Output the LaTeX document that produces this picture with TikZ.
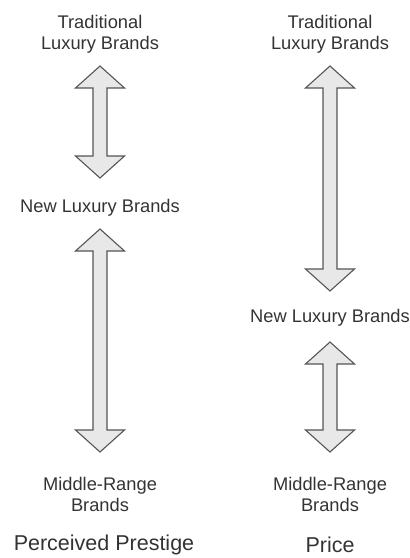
\documentclass[tikz,border=0pt]{standalone}
\usepackage{fontspec}
\setmainfont{Liberation Sans}
\usetikzlibrary{calc}
\definecolor{inkgray}{HTML}{333333}
\definecolor{arrowfill}{HTML}{E8E8E8}
\definecolor{arrowline}{HTML}{555555}

% Hollow double-headed block arrow between two tip coordinates (#1 above #2)
\newcommand\blockarrow[2]{%
  \draw[bigarrow] let \p1=(#1), \p2=(#2) in
    (\x1,\y1) -- (\x1+24.5pt,\y1-22pt) -- (\x1+7pt,\y1-22pt)
    -- (\x1+7pt,\y2+22pt) -- (\x1+24.5pt,\y2+22pt) -- (\x1,\y2)
    -- (\x1-24.5pt,\y2+22pt) -- (\x1-7pt,\y2+22pt)
    -- (\x1-7pt,\y1-22pt) -- (\x1-24.5pt,\y1-22pt) -- cycle;}

\begin{document}
\begin{tikzpicture}[x=1pt,y=-1pt,
  brand/.style={text=inkgray, font=\fontsize{18.3}{21}\selectfont, align=center, inner sep=0pt},
  axis title/.style={text=inkgray, font=\fontsize{21.5}{25}\selectfont, inner sep=0pt},
  bigarrow/.style={fill=arrowfill, draw=arrowline, line width=1.1pt, line join=miter}]
\useasboundingbox (0,0) rectangle (410,558);

% Perceived prestige column
\node[brand] (ptrad) at (100,34.5) {Traditional\\Luxury Brands};
\node[brand] (pnew) at (100,208) {New Luxury Brands};
\node[brand] (pmid) at (100,494.5) {Middle-Range\\Brands};
\node[axis title] (ptitle) at (104,545) {Perceived Prestige};

\coordinate (pa1) at (100,66);
\coordinate (pa2) at (100,178);
\coordinate (pb1) at (100,229);
\coordinate (pb2) at (100,452);
\blockarrow{pa1}{pa2}
\blockarrow{pb1}{pb2}

% Price column
\node[brand] (qtrad) at (330,34.5) {Traditional\\Luxury Brands};
\node[brand] (qnew) at (330,318) {New Luxury Brands};
\node[brand] (qmid) at (330,494.5) {Middle-Range\\Brands};
\node[axis title] (qtitle) at (330,545) {Price};

\coordinate (qa1) at (330,66);
\coordinate (qa2) at (330,291);
\coordinate (qb1) at (330,342);
\coordinate (qb2) at (330,452);
\blockarrow{qa1}{qa2}
\blockarrow{qb1}{qb2}
\end{tikzpicture}
\end{document}
